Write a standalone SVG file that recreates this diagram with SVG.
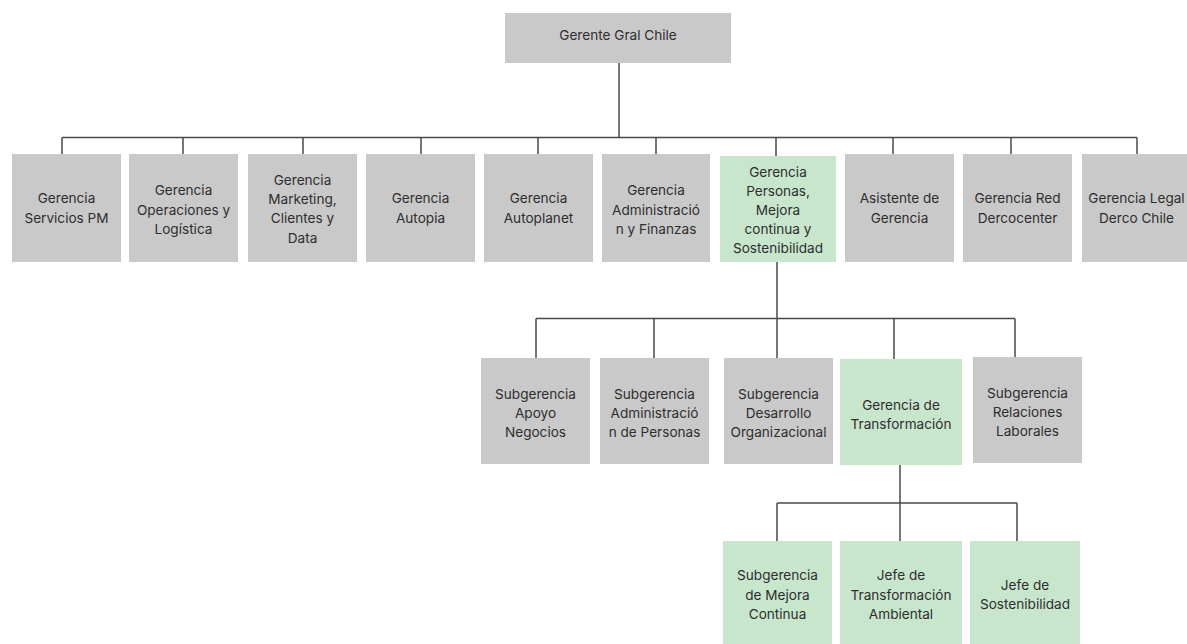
<svg xmlns="http://www.w3.org/2000/svg" width="1187" height="644" viewBox="0 0 1187 644">
  <style>
    .box { fill: #c9c9c9; }
    .box.hl { fill: #c8e6cc; }
    .lbl { font-family: Inter, "Liberation Sans", sans-serif; font-size: 13.6px; fill: #2e2e2e; text-anchor: middle; }
    .wire { fill: none; stroke: #4a4a4a; stroke-width: 1.5; }
  </style>
  <rect width="1187" height="644" fill="#ffffff"/>

  <!-- connectors -->
  <g id="connectors" class="wire">
    <path d="M619 63 V137.5"/>
    <path d="M62 137.5 H1137"/>
    <path d="M62 137.5 V154 M183 137.5 V154 M303 137.5 V154 M421 137.5 V154 M538 137.5 V154 M656 137.5 V154 M776 137.5 V156 M893 137.5 V154 M1011 137.5 V154 M1137 137.5 V154"/>
    <path d="M777 262 V358"/>
    <path d="M536 318.5 H1015"/>
    <path d="M536 318.5 V358 M654 318.5 V358 M894 318.5 V359 M1015 318.5 V357"/>
    <path d="M900 465 V541"/>
    <path d="M777 503 H1017"/>
    <path d="M777 503 V541 M1017 503 V541"/>
  </g>

  <!-- top -->
  <g id="gerente-gral">
    <rect class="box" x="505" y="13" width="226" height="50"/>
    <text class="lbl" x="618" y="40">Gerente Gral Chile</text>
  </g>

  <!-- first level -->
  <g id="servicios-pm">
    <rect class="box" x="12" y="154" width="109" height="108"/>
    <text class="lbl" x="66.5" y="203">Gerencia<tspan x="66.5" dy="20">Servicios PM</tspan></text>
  </g>
  <g id="operaciones">
    <rect class="box" x="129" y="154" width="109" height="108"/>
    <text class="lbl" x="183.5" y="195">Gerencia<tspan x="183.5" dy="19.5">Operaciones y</tspan><tspan x="183.5" dy="19.5">Logística</tspan></text>
  </g>
  <g id="marketing">
    <rect class="box" x="248" y="154" width="109" height="108"/>
    <text class="lbl" x="302.5" y="185">Gerencia<tspan x="302.5" dy="19">Marketing,</tspan><tspan x="302.5" dy="19">Clientes y</tspan><tspan x="302.5" dy="19.5">Data</tspan></text>
  </g>
  <g id="autopia">
    <rect class="box" x="366" y="154" width="109" height="108"/>
    <text class="lbl" x="420.5" y="203">Gerencia<tspan x="420.5" dy="20">Autopia</tspan></text>
  </g>
  <g id="autoplanet">
    <rect class="box" x="484" y="154" width="109" height="108"/>
    <text class="lbl" x="538.5" y="203">Gerencia<tspan x="538.5" dy="20">Autoplanet</tspan></text>
  </g>
  <g id="administracion-finanzas">
    <rect class="box" x="602" y="154" width="108" height="108"/>
    <text class="lbl" x="656" y="195">Gerencia<tspan x="656" dy="19.5">Administració</tspan><tspan x="656" dy="19.5">n y Finanzas</tspan></text>
  </g>
  <g id="personas">
    <rect class="box hl" x="720" y="156" width="116" height="106"/>
    <text class="lbl" x="778" y="176.5">Gerencia<tspan x="778" dy="19.2">Personas,</tspan><tspan x="778" dy="19.2">Mejora</tspan><tspan x="778" dy="19.2">continua y</tspan><tspan x="778" dy="19.2">Sostenibilidad</tspan></text>
  </g>
  <g id="asistente">
    <rect class="box" x="845" y="154" width="109" height="108"/>
    <text class="lbl" x="899.5" y="203">Asistente de<tspan x="899.5" dy="20">Gerencia</tspan></text>
  </g>
  <g id="red-dercocenter">
    <rect class="box" x="963" y="154" width="109" height="108"/>
    <text class="lbl" x="1017.5" y="203">Gerencia Red<tspan x="1017.5" dy="20">Dercocenter</tspan></text>
  </g>
  <g id="legal">
    <rect class="box" x="1082" y="154" width="109" height="108"/>
    <text class="lbl" x="1136.5" y="203">Gerencia Legal<tspan x="1136.5" dy="20">Derco Chile</tspan></text>
  </g>

  <!-- second level -->
  <g id="apoyo-negocios">
    <rect class="box" x="481" y="358" width="109" height="106"/>
    <text class="lbl" x="535.5" y="399">Subgerencia<tspan x="535.5" dy="19">Apoyo</tspan><tspan x="535.5" dy="19">Negocios</tspan></text>
  </g>
  <g id="administracion-personas">
    <rect class="box" x="600" y="358" width="109" height="106"/>
    <text class="lbl" x="654.5" y="399">Subgerencia<tspan x="654.5" dy="19">Administració</tspan><tspan x="654.5" dy="19">n de Personas</tspan></text>
  </g>
  <g id="desarrollo-organizacional">
    <rect class="box" x="724" y="358" width="109" height="106"/>
    <text class="lbl" x="778.5" y="399">Subgerencia<tspan x="778.5" dy="19">Desarrollo</tspan><tspan x="778.5" dy="19">Organizacional</tspan></text>
  </g>
  <g id="transformacion">
    <rect class="box hl" x="840" y="359" width="122" height="106"/>
    <text class="lbl" x="901" y="410">Gerencia de<tspan x="901" dy="18.5">Transformación</tspan></text>
  </g>
  <g id="relaciones-laborales">
    <rect class="box" x="973" y="357" width="109" height="106"/>
    <text class="lbl" x="1027.5" y="398">Subgerencia<tspan x="1027.5" dy="19">Relaciones</tspan><tspan x="1027.5" dy="19">Laborales</tspan></text>
  </g>

  <!-- third level -->
  <g id="mejora-continua">
    <rect class="box hl" x="723" y="541" width="109" height="103"/>
    <text class="lbl" x="777.5" y="580">Subgerencia<tspan x="777.5" dy="19.5">de Mejora</tspan><tspan x="777.5" dy="19.5">Continua</tspan></text>
  </g>
  <g id="transformacion-ambiental">
    <rect class="box hl" x="840" y="541" width="122" height="103"/>
    <text class="lbl" x="901" y="580">Jefe de<tspan x="901" dy="19.5">Transformación</tspan><tspan x="901" dy="19.5">Ambiental</tspan></text>
  </g>
  <g id="sostenibilidad">
    <rect class="box hl" x="970" y="541" width="110" height="103"/>
    <text class="lbl" x="1025" y="590">Jefe de<tspan x="1025" dy="19">Sostenibilidad</tspan></text>
  </g>
</svg>
